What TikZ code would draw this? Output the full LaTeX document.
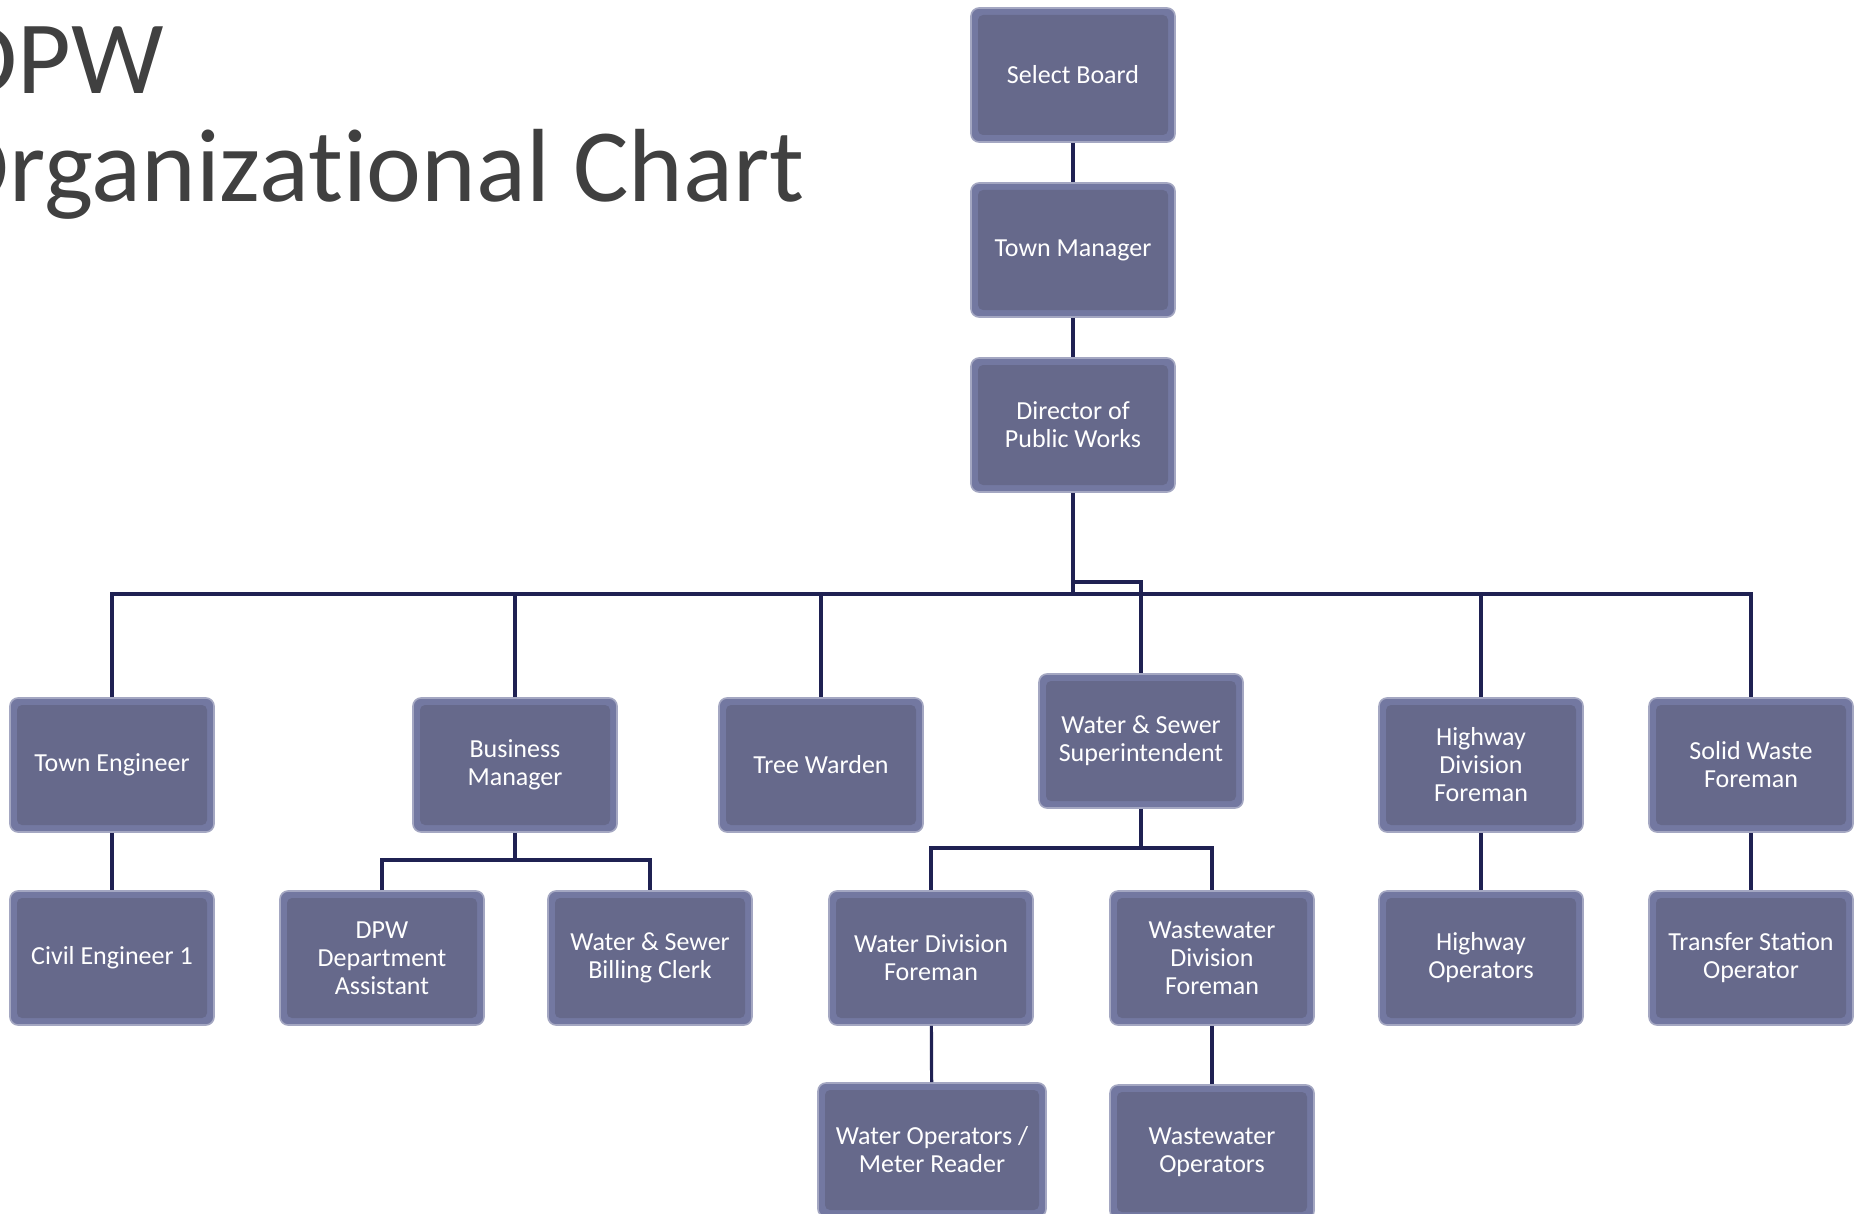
\documentclass[tikz,border=0pt]{standalone}
\usepackage{fontspec}
\setmainfont{Carlito}
\newfontfamily\titlefont{Carlito}[Ligatures=NoCommon]
\usetikzlibrary{positioning}

\definecolor{boxedge}{HTML}{7378A1}
\definecolor{boxface}{HTML}{66698B}
\definecolor{boxrim}{HTML}{A4A7C2}
\definecolor{linkcol}{HTML}{1F2152}
\definecolor{titlecol}{HTML}{404040}

\begin{document}
\begin{tikzpicture}[x=0.5pt, y=-0.5pt,
    orgbox/.style={draw=boxrim, line width=0.8pt, fill=boxedge, rounded corners=4pt,
        minimum width=102pt, minimum height=67pt, inner sep=2pt, align=center,
        text=white, font=\fontsize{13pt}{14pt}\selectfont,
        path picture={\fill[boxface, rounded corners=2.5pt]
            ([shift={(3.5pt,3.5pt)}]path picture bounding box.south west) rectangle
            ([shift={(-3.5pt,-3.5pt)}]path picture bounding box.north east);}},
    link/.style={draw=linkcol, line width=1.6pt},
    title/.style={text=titlecol, inner sep=0pt, font=\titlefont\fontsize{52pt}{58pt}\selectfont}]

        \useasboundingbox (0,0) rectangle (1856,1214);
        \clip (0,0) rectangle (1856,1214);

        % Title
        \node[title, anchor=base east] (dpw) at (164,94) {DPW};
        \node[title, anchor=base east] (org) at (805,202) {Organizational Chart};

        % Top of the chain
        \node[orgbox] (sb) at (1073,75) {Select Board};
        \node[orgbox] (tm) at (1073,250) {Town Manager};
        \node[orgbox] (dir) at (1073,425) {Director of\\Public Works};

        % Second row
        \node[orgbox] (te) at (112,765) {Town Engineer};
        \node[orgbox] (bm) at (515,765) {Business\\Manager};
        \node[orgbox] (tw) at (821,765) {Tree Warden};
        \node[orgbox] (ws) at (1141,741) {Water \& Sewer\\Superintendent};
        \node[orgbox] (hd) at (1481,765) {Highway\\Division\\Foreman};
        \node[orgbox] (sw) at (1751,765) {Solid Waste\\Foreman};

        % Third row
        \node[orgbox] (ce) at (112,958) {Civil Engineer 1};
        \node[orgbox] (da) at (382,958) {DPW\\Department\\Assistant};
        \node[orgbox] (bc) at (650,958) {Water \& Sewer\\Billing Clerk};
        \node[orgbox] (wd) at (931,958) {Water Division\\Foreman};
        \node[orgbox] (wwd) at (1212,958) {Wastewater\\Division\\Foreman};
        \node[orgbox] (ho) at (1481,958) {Highway\\Operators};
        \node[orgbox] (ts) at (1751,958) {Transfer Station\\Operator};

        % Fourth row
        \node[orgbox, minimum width=114pt] (wo) at (932,1150) {Water Operators /\\Meter Reader};
        \node[orgbox] (wwo) at (1212,1152) {Wastewater\\Operators};

        % Bus heights
        \coordinate (bus) at (0,594);
        \coordinate (jog) at (0,582);
        \coordinate (bmbus) at (0,860);
        \coordinate (wsbus) at (0,848);

        \draw[link] (sb) -- (tm);
        \draw[link] (tm) -- (dir);
        \draw[link] (dir.south) -- (dir |- bus);
        \draw[link] (te.north) |- (sw |- bus) -- (sw.north);
        \foreach \n in {bm, tw, hd} {
            \draw[link] (\n.north) -- (\n |- bus);
        }
        \draw[link] (dir |- jog) -| (ws.north);

        \draw[link] (bm.south) -- (bm |- bmbus);
        \draw[link] (da.north) |- (bc |- bmbus) -- (bc.north);
        \draw[link] (ws.south) -- (ws |- wsbus);
        \draw[link] (wd.north) |- (wwd |- wsbus) -- (wwd.north);

        \foreach \a/\b in {te/ce, wd/wo, wwd/wwo, hd/ho, sw/ts} {
            \draw[link] (\a) -- (\b);
        }

\end{tikzpicture}
\end{document}
